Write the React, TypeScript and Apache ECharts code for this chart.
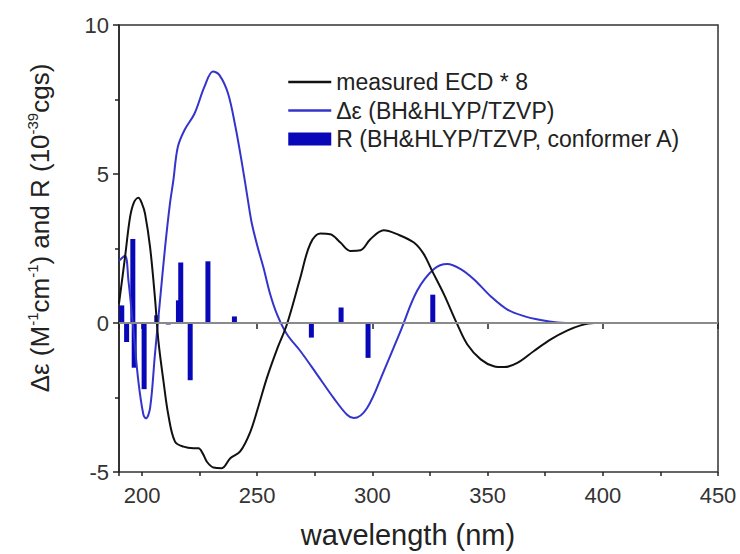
import React, { useEffect, useRef } from "react";
import * as echarts from "echarts";

// measured ECD * 8 (black)
const ecdWl = [190, 192.6, 194.8, 196.5, 198.4, 200, 201.3, 203.5, 205.6, 207.1, 209.3, 211.4, 214.3, 218, 222.3, 224.5, 226.5, 228.1, 231, 234.6, 238.3, 242.6, 247, 250.5, 254.2, 258.5, 262.9, 268.7, 273, 277.4, 281.7, 286.1, 290.4, 294.8, 299.1, 304.9, 310.7, 318, 322.3, 325.9, 331, 336.8, 341.2, 347, 352.7, 357.1, 362.9, 370.1, 377.4, 384.7, 390.4, 396.2, 405, 420, 435, 450];
const ecdVal = [0.65, 2.2, 3.55, 4.05, 4.2, 4.0, 3.67, 2.54, 0.85, -0.6, -1.95, -3.08, -3.98, -4.15, -4.2, -4.2, -4.4, -4.65, -4.85, -4.87, -4.54, -4.31, -3.65, -2.8, -1.84, -0.9, -0.04, 1.52, 2.65, 3.0, 2.98, 2.7, 2.42, 2.44, 2.81, 3.11, 2.98, 2.7, 2.31, 1.75, 0.97, -0.04, -0.72, -1.22, -1.45, -1.48, -1.34, -0.94, -0.55, -0.25, -0.08, 0, 0, 0, 0, 0];

// calculated Δε (blue)
const calcWl = [190, 192.6, 194.1, 196.3, 198.4, 200.6, 201.7, 203.5, 205.6, 207.8, 210, 212.1, 213.6, 215.5, 218.4, 222.8, 227.1, 230.8, 233.6, 237.3, 240.5, 243.5, 246, 247.5, 250, 252.7, 255.5, 258.6, 262.9, 268.7, 276, 283.2, 289, 291.9, 297.7, 304.9, 312.2, 319.4, 326.7, 332.5, 338.3, 344, 351.3, 358.6, 365.8, 373, 380.3, 388, 400, 425, 450];
const calcVal = [2.09, 2.26, 1.42, -0.26, -1.95, -3.08, -3.2, -2.85, -1.05, 0.76, 2.54, 4.0, 4.79, 5.9, 6.47, 7.03, 7.93, 8.44, 8.32, 7.71, 6.6, 5.3, 4.1, 3.4, 2.6, 1.86, 1.0, 0.29, -0.38, -0.94, -1.73, -2.52, -3.08, -3.19, -2.85, -1.62, -0.27, 1.08, 1.81, 1.98, 1.81, 1.47, 0.9, 0.45, 0.23, 0.1, 0.02, 0, 0, 0, 0];

// rotational strengths R (bars)
const rWl = [191.2, 193.3, 196.0, 196.6, 200.9, 206.4, 211.4, 215.8, 216.8, 220.9, 228.6, 240.1, 273.5, 286.4, 298.1, 326.2];
const rVal = [0.59, -0.64, 2.82, -1.5, -2.22, 0.26, -0.05, 0.76, 2.03, -1.92, 2.07, 0.22, -0.49, 0.52, -1.17, 0.95];

const yTicks = [-5, 0, 5, 10];

const NAME_ECD = "measured ECD * 8";
const NAME_CALC = "Δε (BH&HLYP/TZVP)";
const NAME_R = "R (BH&HLYP/TZVP, conformer A)";

const FONT = "'Liberation Sans', Arial, Helvetica, sans-serif";

export default function App() {
  const ref = useRef<HTMLDivElement>(null);
  useEffect(() => {
    if (!ref.current) return;
    const chart = echarts.init(ref.current, null, { renderer: "svg" });
    const hiddenSymbol = { opacity: 0, color: "rgba(0,0,0,0)", borderColor: "rgba(0,0,0,0)", borderWidth: 0 };
    const option: any = {
      animation: false,
      grid: { left: 119, right: 22, top: 25, bottom: 82, show: true, borderColor: "#333", borderWidth: 1.5, backgroundColor: "transparent" },
      legend: {
        orient: "vertical",
        left: 287,
        top: 68,
        padding: 0,
        itemWidth: 43,
        itemHeight: 13,
        itemGap: 0.5,
        textStyle: { fontSize: 23, color: "#222", fontFamily: FONT, lineHeight: 28 },
        data: [
          { name: NAME_ECD, itemStyle: hiddenSymbol, lineStyle: { width: 2.5 } },
          { name: NAME_CALC, itemStyle: hiddenSymbol, lineStyle: { width: 2.5 } },
          { name: NAME_R, icon: "rect" },
        ],
      },
      xAxis: [
        {
          type: "value",
          min: 190,
          max: 450,
          splitNumber: 5,
          minInterval: 50,
          maxInterval: 50,
          axisLine: { show: true, lineStyle: { color: "#222", width: 1.5 } },
          axisTick: { show: true, length: 6, lineStyle: { color: "#222", width: 1.5 } },
          axisLabel: {
            fontSize: 22,
            color: "#333",
            fontFamily: FONT,
            margin: 12,
            formatter: (v: number) => (v % 50 === 0 ? String(v) : ""),
          },
          splitLine: { show: false },
        },
        {
          type: "value",
          position: "bottom",
          min: 190,
          max: 450,
          splitNumber: 10,
          minInterval: 25,
          maxInterval: 25,
          axisLine: { show: false },
          axisTick: { show: true, length: 4, lineStyle: { color: "#222", width: 1.5 } },
          axisLabel: { show: false },
          splitLine: { show: false },
        },
      ],
      yAxis: {
        type: "value",
        min: yTicks[0],
        max: yTicks[yTicks.length - 1],
        interval: 5,
        axisLine: { show: true, lineStyle: { color: "#222", width: 1.5 } },
        axisTick: { show: true, length: 6, lineStyle: { color: "#222", width: 1.5 } },
        minorTick: { show: true, splitNumber: 2, length: 4, lineStyle: { color: "#222", width: 1.5 } },
        axisLabel: { fontSize: 22, color: "#333", fontFamily: FONT, margin: 10 },
        splitLine: { show: false },
      },
      series: [
        {
          name: NAME_R,
          type: "bar",
          xAxisIndex: 0,
          barWidth: 5,
          data: rWl.map((w, i) => [w, rVal[i]]),
          itemStyle: { color: "#0808b8" },
          z: 2,
          markLine: {
            silent: true,
            symbol: ["none", "none"],
            label: { show: false },
            lineStyle: { color: "#8a8a8a", width: 2, type: "solid" },
            data: [{ yAxis: 0 }],
          },
        },
        {
          name: NAME_CALC,
          type: "line",
          xAxisIndex: 0,
          symbol: "none",
          smooth: 0.35,
          data: calcWl.map((w, i) => [w, calcVal[i]]),
          lineStyle: { color: "#3434cc", width: 2 },
          itemStyle: { color: "#3434cc" },
          z: 3,
        },
        {
          name: NAME_ECD,
          type: "line",
          xAxisIndex: 0,
          symbol: "none",
          smooth: 0.35,
          data: ecdWl.map((w, i) => [w, ecdVal[i]]),
          lineStyle: { color: "#111", width: 2 },
          itemStyle: { color: "#111" },
          z: 4,
        },
      ],
      graphic: [
        {
          type: "text",
          x: 40,
          y: 228,
          rotation: Math.PI / 2,
          style: {
            text: "{n|Δε (M}{s|-1}{n|cm}{s|-1}{n|) and R (10}{s|-39}{n|cgs)}",
            align: "center",
            verticalAlign: "middle",
            rich: {
              n: { fontSize: 26, fontFamily: FONT, fill: "#222", color: "#222", lineHeight: 30 },
              s: { fontSize: 15, fontFamily: FONT, fill: "#222", color: "#222", lineHeight: 30, verticalAlign: "top" },
            },
          },
        },
        {
          type: "text",
          x: 408,
          y: 535,
          style: {
            text: "wavelength (nm)",
            fontSize: 29,
            fontFamily: FONT,
            fill: "#222",
            align: "center",
            verticalAlign: "middle",
          },
        },
      ],
    };
    chart.setOption(option);
    return () => chart.dispose();
  }, []);
  return <div ref={ref} style={{ position: "fixed", left: 0, top: 0, width: 740, height: 554, background: "#fff" }} />;
}
